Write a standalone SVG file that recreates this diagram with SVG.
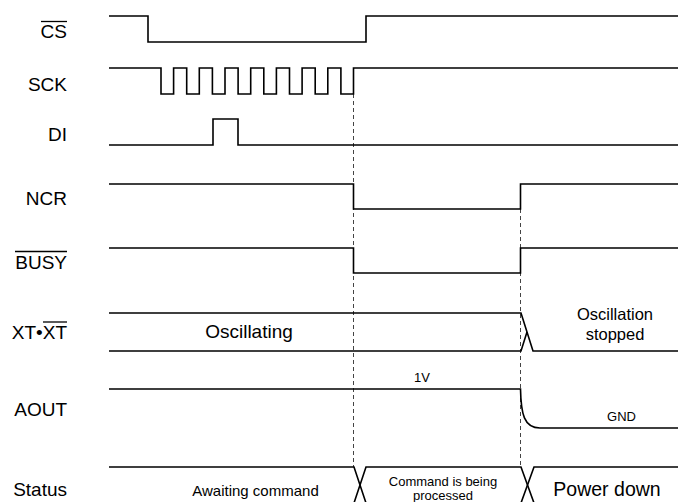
<svg xmlns="http://www.w3.org/2000/svg" width="678" height="502" viewBox="0 0 678 502">
<style>
.sig{fill:none;stroke:#000;stroke-width:1.6}
.dash{fill:none;stroke:#444;stroke-width:1;stroke-dasharray:4,3}
.ov{stroke:#000;stroke-width:1.3}
.lbl{font-family:"Liberation Sans",Arial,sans-serif;font-size:19px;fill:#000;text-anchor:end}
.t{font-family:"Liberation Sans",Arial,sans-serif;fill:#000;text-anchor:middle}
</style>
<rect width="678" height="502" fill="#fff"/>
<g id="connectors">
<line class="dash" x1="353.5" y1="94" x2="353.5" y2="467"/>
<line class="dash" x1="520.5" y1="209" x2="520.5" y2="467"/>
</g>
<g id="cs">
<text class="lbl" x="67" y="38">CS</text>
<line class="ov" x1="41" y1="21.5" x2="67" y2="21.5"/>
<path class="sig" d="M109,16 H148 V42 H366 V16 H678"/>
</g>
<g id="sck">
<text class="lbl" x="67" y="91">SCK</text>
<path class="sig" d="M109,68 H161 V94 H173.6 V68 H186.7 V94 H199.3 V68 H212.4 V94 H225 V68 H238.1 V94 H250.7 V68 H263.8 V94 H276.4 V68 H289.5 V94 H302.1 V68 H315.2 V94 H327.8 V68 H340.9 V94 H353.5 V68 H678"/>
</g>
<g id="di">
<text class="lbl" x="67" y="141">DI</text>
<path class="sig" d="M109,145 H213 V119 H238 V145 H678"/>
</g>
<g id="ncr">
<text class="lbl" x="67" y="205">NCR</text>
<path class="sig" d="M109,184 H353.5 V209 H520.5 V184 H678"/>
</g>
<g id="busy">
<text class="lbl" x="67" y="269">BUSY</text>
<line class="ov" x1="15" y1="251.5" x2="67" y2="251.5"/>
<path class="sig" d="M109,248 H353.5 V273 H520.5 V248 H678"/>
</g>
<g id="xt">
<text class="lbl" x="67" y="339">XT•XT</text>
<line class="ov" x1="43" y1="322" x2="67" y2="322"/>
<path class="sig" d="M109,313 H521 L533,351 H678"/>
<path class="sig" d="M109,351 H521 L527,332"/>
<text class="t" x="249" y="338" font-size="19">Oscillating</text>
<text class="t" x="615" y="320" font-size="16.5">Oscillation</text>
<text class="t" x="615" y="340" font-size="16.5">stopped</text>
</g>
<g id="aout">
<text class="lbl" x="67" y="416">AOUT</text>
<path class="sig" d="M109,389 H520.5 C521,414 524,428 540,428 H678"/>
<text class="t" x="422" y="382" font-size="13">1V</text>
<text class="t" x="621.5" y="421" font-size="13">GND</text>
</g>
<g id="status">
<text class="lbl" x="67" y="496">Status</text>
<path class="sig" d="M109,467 H354 L366,503"/>
<path class="sig" d="M354,503 L366,467 H521 L534,503"/>
<path class="sig" d="M521,503 L534,467 H678"/>
<text class="t" x="255.5" y="496" font-size="15">Awaiting command</text>
<text class="t" x="443" y="486" font-size="13">Command is being</text>
<text class="t" x="443" y="500" font-size="13">processed</text>
<text class="t" x="607" y="496" font-size="19.5">Power down</text>
</g>
</svg>
